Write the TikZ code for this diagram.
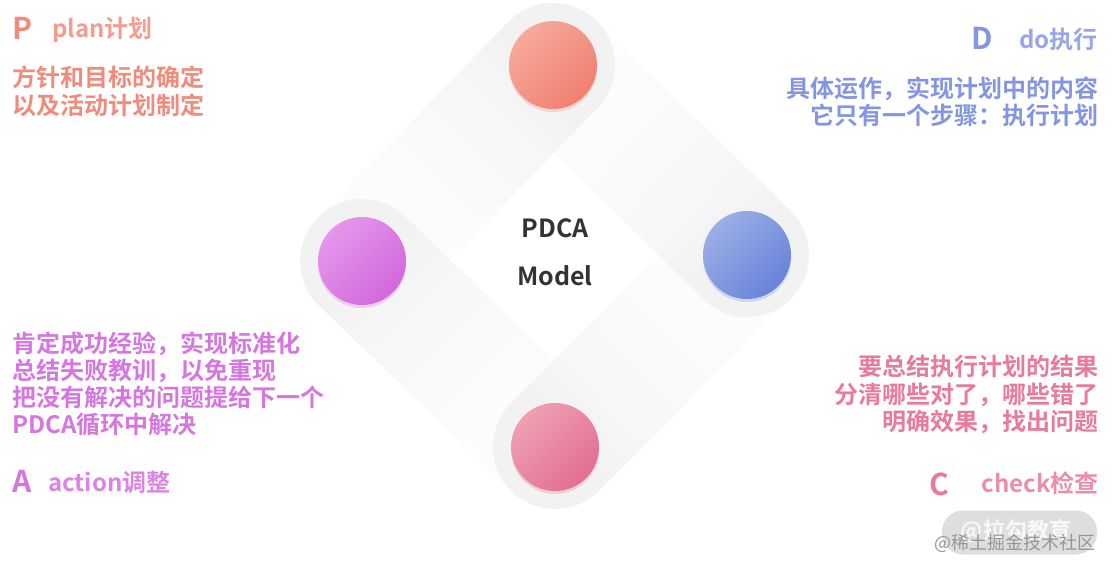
\documentclass[tikz,border=0pt]{standalone}
\usepackage{fontspec}
\setmainfont{Noto Sans CJK SC}[BoldFont={Noto Sans CJK SC Bold}]
\usetikzlibrary{shapes.geometric,shadows,fadings}
\definecolor{halo}{RGB}{242,242,242}
\definecolor{Plight}{RGB}{246,170,156}
\definecolor{Pdark}{RGB}{240,128,112}
\definecolor{Dlight}{RGB}{156,174,230}
\definecolor{Ddark}{RGB}{104,132,216}
\definecolor{Alight}{RGB}{228,150,236}
\definecolor{Adark}{RGB}{210,104,220}
\definecolor{Clight}{RGB}{238,160,178}
\definecolor{Cdark}{RGB}{228,110,146}
\definecolor{Ptext}{RGB}{240,140,124}
\definecolor{Dtext}{RGB}{132,150,226}
\definecolor{Atext}{RGB}{214,118,224}
\definecolor{Ctext}{RGB}{232,122,156}
\definecolor{wmbox}{RGB}{222,222,222}
\definecolor{wmtext}{RGB}{150,150,150}
\pgfdeclarehorizontalshading{bandmask}{100bp}{color(0bp)=(white); color(25bp)=(white); color(34bp)=(white); color(41bp)=(black!35); color(55bp)=(black!70); color(75bp)=(black); color(100bp)=(black)}
\pgfdeclarefading{bandfading}{\pgfuseshading{bandmask}}
\tikzset{
  ball/.style={circle, minimum size=88pt, inner sep=0pt},
  title/.style={font=\bfseries\fontsize{24}{24}\selectfont, inner sep=0pt},
  bigletter/.style={font=\bfseries\fontsize{30}{30}\selectfont, inner sep=0pt},
  body/.style={font=\bfseries\fontsize{24}{24}\selectfont, inner sep=0pt},
  center/.style={font=\bfseries\fontsize{25}{25}\selectfont, inner sep=0pt, text=black!80},
}
\newcommand{\haloband}[3]{%
  \begin{scope}[transform canvas={shift={#1}, rotate=#2}]
    \fill[halo, path fading=bandfading, fit fading=true]
      (0pt,-62pt) -- (#3pt,-62pt) arc[start angle=-90, end angle=90, radius=62pt]
      -- (0pt,62pt) arc[start angle=90, end angle=270, radius=62pt] -- cycle;
  \end{scope}}
\begin{document}
\begin{tikzpicture}[x=1pt, y=-1pt]
\useasboundingbox[fill=white] (0,0) rectangle (1112,569);

% halo bands
\haloband{(553,65)}{-134.3}{250}
\haloband{(747,255)}{135.6}{250}
\haloband{(555,447)}{45}{250}
\haloband{(362,261)}{-43.9}{250}

% balls
\node[ball, left color=Plight, right color=Pdark, shading angle=45,
  drop shadow={shadow xshift=0pt, shadow yshift=-3pt, fill=Pdark, opacity=0.25}] (P) at (553,65) {};
\node[ball, left color=Dlight, right color=Ddark, shading angle=45,
  drop shadow={shadow xshift=0pt, shadow yshift=-3pt, fill=Ddark, opacity=0.25}] (D) at (747,255) {};
\node[ball, left color=Alight, right color=Adark, shading angle=45,
  drop shadow={shadow xshift=0pt, shadow yshift=-3pt, fill=Adark, opacity=0.25}] (A) at (362,261) {};
\node[ball, left color=Clight, right color=Cdark, shading angle=45,
  drop shadow={shadow xshift=0pt, shadow yshift=-3pt, fill=Cdark, opacity=0.25}] (C) at (555,447) {};

% center
\node[center, anchor=base] (pdca) at (555,238) {PDCA};
\node[center, anchor=base] (model) at (555,286) {Model};

% P
\node[bigletter, text=Ptext, anchor=base west] (Pl) at (12,40) {P};
\node[title, text=Ptext!85, anchor=base west] (Pt) at (52,38) {plan计划};
\node[body, text=Ptext, anchor=base west] (Pb1) at (12,87) {方针和目标的确定};
\node[body, text=Ptext, anchor=base west] (Pb2) at (12,115) {以及活动计划制定};

% D
\node[bigletter, text=Dtext, anchor=base west] (Dl) at (971,50) {D};
\node[title, text=Dtext!85, anchor=base east] (Dt) at (1098,49) {do执行};
\node[body, text=Dtext, anchor=base east] (Db1) at (1099,98) {具体运作，实现计划中的内容};
\node[body, text=Dtext, anchor=base east] (Db2) at (1099,125) {它只有一个步骤：执行计划};

% A
\node[body, text=Atext, anchor=base west] (Ab1) at (12,353) {肯定成功经验，实现标准化};
\node[body, text=Atext, anchor=base west] (Ab2) at (12,380) {总结失败教训，以免重现};
\node[body, text=Atext, anchor=base west] (Ab3) at (12,407) {把没有解决的问题提给下一个};
\node[body, text=Atext, anchor=base west] (Ab4) at (12,434) {PDCA循环中解决};
\node[bigletter, text=Atext, anchor=base west] (Al) at (12,492) {A};
\node[title, text=Atext!90, anchor=base west] (At) at (48,491) {action调整};

% C
\node[body, text=Ctext, anchor=base east] (Cb1) at (1099,376) {要总结执行计划的结果};
\node[body, text=Ctext, anchor=base east] (Cb2) at (1099,403) {分清哪些对了，哪些错了};
\node[body, text=Ctext, anchor=base east] (Cb3) at (1099,431) {明确效果，找出问题};
\node[bigletter, text=Ctext, anchor=base west] (Cl) at (929,495) {C};
\node[title, text=Ctext!85, anchor=base east] (Ct) at (1099,493) {check检查};

% watermark
\node[draw=none, fill=wmbox, rounded corners=21pt, minimum width=155pt, minimum height=44pt,
  inner sep=0pt] (wm) at (1019.5,532.5) {};
\node[text=white, opacity=0.8, font=\bfseries\fontsize{22}{22}\selectfont, inner sep=0pt, anchor=base]
  (wm1) at (1016,538) {@拉勾教育};
\node[text=wmtext, font=\fontsize{18}{18}\selectfont, inner sep=0pt, anchor=base east]
  (wm2) at (1096,549) {@稀土掘金技术社区};
\end{tikzpicture}
\end{document}
